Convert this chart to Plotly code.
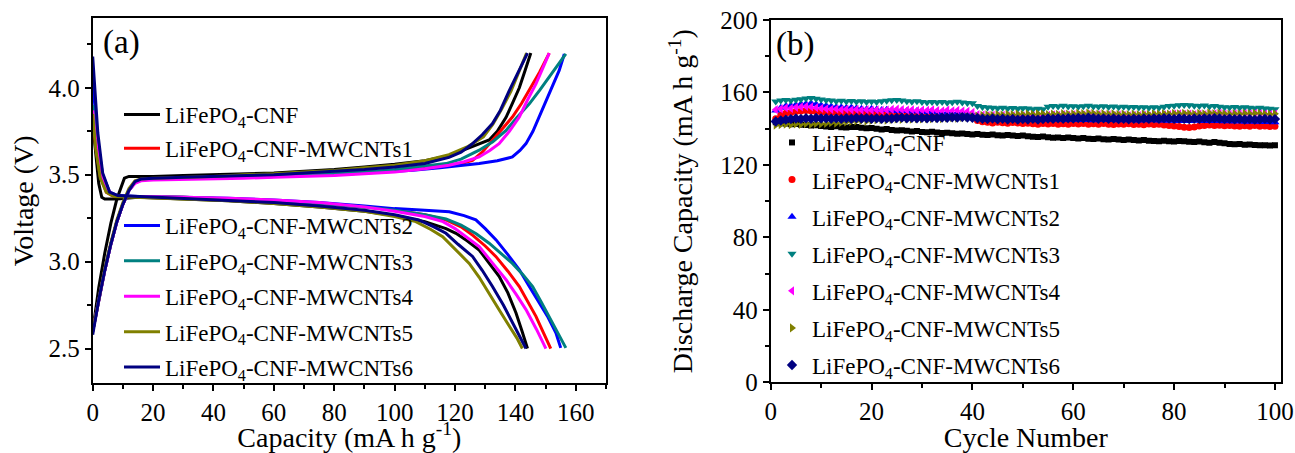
import plotly.graph_objects as go

# ---------------- Panel (a): charge / discharge curves ----------------
names = ["LiFePO<sub>4</sub>-CNF", "LiFePO<sub>4</sub>-CNF-MWCNTs1", "LiFePO<sub>4</sub>-CNF-MWCNTs2",
         "LiFePO<sub>4</sub>-CNF-MWCNTs3", "LiFePO<sub>4</sub>-CNF-MWCNTs4", "LiFePO<sub>4</sub>-CNF-MWCNTs5",
         "LiFePO<sub>4</sub>-CNF-MWCNTs6"]
colors = ["#000000", "#FF0000", "#0000FF", "#008080", "#FF00FF", "#808000", "#000080"]

# charge curves (capacity, voltage)
chg_cap_cnf = [0, 2, 4, 6, 8, 9.5, 10.5, 12, 15, 20, 30, 40, 50, 60, 70, 80, 90, 100, 110, 118, 122.5, 127, 131.3, 134, 136.9, 139, 141.3, 143.2, 145.1]
chg_v_cnf = [2.60, 2.85, 3.05, 3.22, 3.36, 3.44, 3.48, 3.49, 3.49, 3.49, 3.495, 3.50, 3.505, 3.51, 3.52, 3.53, 3.545, 3.56, 3.58, 3.61, 3.64, 3.67, 3.70, 3.75, 3.83, 3.91, 4.00, 4.10, 4.20]
chg_cap_m1 = [0, 2, 4, 6, 8, 10, 12, 14, 16, 20, 30, 40, 50, 60, 70, 80, 90, 100, 110, 118, 122, 125.8, 129, 132.4, 135.5, 139, 142, 144.6, 148, 151.2]
chg_v_m1 = [2.60, 2.78, 2.95, 3.10, 3.23, 3.33, 3.41, 3.455, 3.47, 3.475, 3.478, 3.48, 3.485, 3.49, 3.495, 3.505, 3.515, 3.525, 3.54, 3.555, 3.565, 3.583, 3.63, 3.698, 3.76, 3.832, 3.91, 3.985, 4.09, 4.20]
chg_cap_m2 = [0, 2, 4, 6, 8, 10, 12, 14, 16, 20, 30, 40, 50, 60, 70, 80, 90, 100, 106, 115, 122, 128, 134, 139, 141.5, 143.5, 145.8, 147.9, 150, 152.3, 154.5, 156.2]
chg_v_m2 = [2.60, 2.78, 2.95, 3.10, 3.23, 3.33, 3.41, 3.455, 3.47, 3.475, 3.478, 3.48, 3.485, 3.49, 3.495, 3.50, 3.51, 3.52, 3.526, 3.54, 3.552, 3.564, 3.58, 3.602, 3.64, 3.679, 3.75, 3.832, 3.92, 4.004, 4.10, 4.195]
chg_cap_m3 = [0, 2, 4, 6, 8, 10, 12, 14, 16, 20, 30, 40, 50, 60, 70, 80, 90, 100, 110, 117, 122, 128, 132.5, 136.9, 140.5, 144.6, 148, 151.2, 154, 156.7]
chg_v_m3 = [2.60, 2.78, 2.95, 3.10, 3.23, 3.33, 3.41, 3.455, 3.47, 3.475, 3.478, 3.48, 3.485, 3.49, 3.495, 3.505, 3.515, 3.53, 3.55, 3.564, 3.59, 3.641, 3.69, 3.755, 3.83, 3.908, 3.985, 4.06, 4.13, 4.195]
chg_cap_m4 = [0, 2, 4, 6, 8, 10, 12, 14, 16, 20, 30, 40, 50, 60, 70, 80, 90, 100, 110, 118, 123, 128, 131.5, 134.6, 138, 141.3, 144, 146.8, 149, 151.2]
chg_v_m4 = [2.60, 2.78, 2.95, 3.10, 3.23, 3.33, 3.41, 3.45, 3.465, 3.47, 3.472, 3.475, 3.48, 3.485, 3.49, 3.495, 3.505, 3.515, 3.535, 3.555, 3.575, 3.602, 3.64, 3.679, 3.75, 3.832, 3.93, 4.023, 4.11, 4.20]
chg_cap_m5 = [0, 2, 4, 6, 8, 10, 12, 14, 16, 20, 30, 40, 50, 60, 70, 80, 90, 100, 110, 118, 124, 129.4, 132.5, 135.5, 138.5, 141.2, 143.7]
chg_v_m5 = [2.60, 2.79, 2.96, 3.11, 3.24, 3.34, 3.42, 3.465, 3.475, 3.48, 3.485, 3.49, 3.50, 3.505, 3.515, 3.525, 3.54, 3.555, 3.58, 3.615, 3.66, 3.718, 3.79, 3.88, 3.98, 4.09, 4.20]
chg_cap_m6 = [0, 2, 4, 6, 8, 10, 12, 14, 16, 20, 30, 40, 50, 60, 70, 80, 90, 100, 110, 118, 122, 125.8, 129, 132.4, 135, 138, 141, 144]
chg_v_m6 = [2.58, 2.78, 2.95, 3.10, 3.23, 3.33, 3.41, 3.46, 3.475, 3.48, 3.485, 3.49, 3.495, 3.50, 3.51, 3.52, 3.53, 3.545, 3.565, 3.60, 3.63, 3.679, 3.73, 3.794, 3.87, 3.985, 4.09, 4.20]

# discharge curves (capacity, voltage)
dis_cap_cnf = [0, 1, 2, 3, 4, 8, 15, 30, 45, 60, 75, 90, 100, 110, 117, 120.3, 124, 128, 131, 134.6, 137.5, 140.2, 142.2, 144]
dis_v_cnf = [3.80, 3.62, 3.45, 3.37, 3.36, 3.36, 3.37, 3.36, 3.35, 3.335, 3.315, 3.29, 3.265, 3.23, 3.19, 3.163, 3.12, 3.067, 3.00, 2.915, 2.82, 2.705, 2.60, 2.50]
dis_cap_m1 = [0, 1, 2.5, 4.5, 7, 15, 30, 45, 60, 75, 90, 100, 110, 117, 122, 126, 130, 133.5, 137.5, 141.3, 144, 146.8, 149.3, 151.7]
dis_v_m1 = [3.85, 3.66, 3.49, 3.40, 3.375, 3.375, 3.37, 3.36, 3.35, 3.335, 3.315, 3.295, 3.27, 3.24, 3.20, 3.15, 3.09, 3.03, 2.945, 2.857, 2.77, 2.685, 2.59, 2.50]
dis_cap_m2 = [0, 0.8, 1.7, 3.3, 5.6, 8.3, 15, 30, 45, 60, 75, 90, 100, 110, 118.1, 123, 126.9, 130, 133.6, 137.5, 141.3, 144.5, 147.9, 150.8, 153.4, 155]
dis_v_m2 = [4.05, 3.85, 3.68, 3.50, 3.40, 3.38, 3.375, 3.37, 3.365, 3.355, 3.34, 3.32, 3.305, 3.295, 3.287, 3.265, 3.24, 3.19, 3.125, 3.04, 2.953, 2.86, 2.762, 2.68, 2.59, 2.504]
dis_cap_m3 = [0, 1, 2.5, 4.5, 7, 15, 30, 45, 60, 75, 90, 100, 110, 117, 122, 127, 131.3, 135, 139, 142.5, 145.7, 148.5, 151.2, 154, 156.7]
dis_v_m3 = [3.90, 3.70, 3.50, 3.41, 3.375, 3.375, 3.37, 3.36, 3.35, 3.335, 3.315, 3.295, 3.27, 3.245, 3.21, 3.16, 3.106, 3.05, 2.99, 2.925, 2.857, 2.77, 2.685, 2.595, 2.504]
dis_cap_m4 = [0, 1, 2.5, 4.3, 7, 15, 30, 45, 60, 75, 90, 100, 110, 116, 120, 124, 128, 132.5, 136.9, 140.3, 143.5, 147, 150.1]
dis_v_m4 = [3.87, 3.70, 3.53, 3.43, 3.375, 3.375, 3.37, 3.365, 3.355, 3.34, 3.315, 3.29, 3.26, 3.23, 3.19, 3.14, 3.087, 2.99, 2.896, 2.81, 2.724, 2.61, 2.50]
dis_cap_m5 = [0, 1, 2.5, 4.5, 7, 15, 30, 45, 60, 75, 90, 100, 107, 112, 115.9, 120, 124.7, 128, 131.3, 134.7, 138, 140.5, 142.3]
dis_v_m5 = [3.85, 3.65, 3.48, 3.40, 3.375, 3.37, 3.36, 3.35, 3.335, 3.315, 3.29, 3.26, 3.23, 3.185, 3.144, 3.07, 2.99, 2.91, 2.82, 2.72, 2.628, 2.56, 2.50]
dis_cap_m6 = [0, 0.8, 1.7, 3.3, 5.6, 8.3, 15, 30, 45, 60, 75, 90, 100, 108, 113, 117, 121, 125.8, 129, 132.4, 136, 139, 141.5, 143.5]
dis_v_m6 = [4.18, 3.95, 3.74, 3.51, 3.40, 3.38, 3.375, 3.365, 3.355, 3.34, 3.32, 3.295, 3.27, 3.24, 3.20, 3.163, 3.10, 3.03, 2.95, 2.857, 2.75, 2.65, 2.57, 2.50]

charge_caps = [chg_cap_cnf, chg_cap_m1, chg_cap_m2, chg_cap_m3, chg_cap_m4, chg_cap_m5, chg_cap_m6]
charge_vs = [chg_v_cnf, chg_v_m1, chg_v_m2, chg_v_m3, chg_v_m4, chg_v_m5, chg_v_m6]
dis_caps = [dis_cap_cnf, dis_cap_m1, dis_cap_m2, dis_cap_m3, dis_cap_m4, dis_cap_m5, dis_cap_m6]
dis_vs = [dis_v_cnf, dis_v_m1, dis_v_m2, dis_v_m3, dis_v_m4, dis_v_m5, dis_v_m6]

# ---------------- Panel (b): cycling (discharge capacity) ----------------
cycles = list(range(1, 101))
cap_cnf = [143.5, 143, 142.8, 142.5, 142.6, 142.2, 142.0, 141.8, 141.9, 141.5,
           141.2, 141.0, 141.3, 140.8, 140.6, 140.9, 141.0, 140.5, 140.2, 140.4,
           140.0, 139.6, 139.8, 139.3, 139.0, 139.2, 138.8, 138.5, 138.7, 138.2,
           138.0, 138.3, 137.9, 137.6, 137.8, 137.5, 137.2, 137.4, 137.0, 136.8,
           137.0, 136.7, 136.5, 136.8, 136.4, 136.2, 136.5, 136.3, 136.0, 136.2,
           135.8, 135.6, 135.4, 135.7, 135.3, 135.0, 135.2, 134.9, 135.1, 134.8,
           134.6, 134.9, 134.5, 134.3, 134.6, 134.2, 134.0, 134.3, 134.1, 133.8,
           134.0, 133.7, 133.5, 133.8, 133.4, 133.2, 133.0, 133.3, 133.1, 132.9,
           133.2, 133.0, 132.8, 132.6, 132.9, 132.5, 132.3, 132.6, 132.2, 132.0,
           131.6, 131.4, 131.5, 131.2, 131.3, 131.0, 130.8, 130.9, 130.7, 130.8]
cap_m1 = [145.5, 147.5, 148.5, 149.0, 149.5, 149.8, 150.0, 149.7, 149.5, 149.2,
          149.0, 148.8, 149.1, 148.7, 148.9, 148.5, 148.8, 148.4, 148.6, 148.3,
          148.5, 148.2, 148.4, 148.1, 148.3, 148.0, 148.2, 147.9, 148.1, 147.8,
          148.0, 147.7, 147.9, 147.6, 147.8, 147.5, 147.7, 147.4, 147.2, 146.5,
          144.5, 143.8, 143.5, 143.2, 143.6, 143.3, 143.0, 143.4, 143.1, 142.8,
          143.0, 142.7, 142.5, 142.9, 142.6, 142.8, 142.4, 142.7, 142.5, 142.8,
          142.6, 142.9, 142.5, 142.7, 142.4, 142.8, 142.5, 142.3, 142.6, 142.4,
          142.7, 142.3, 142.5, 142.2, 142.6, 142.3, 142.5, 142.1, 141.8, 141.5,
          141.2, 140.8, 140.6, 141.0, 141.5, 141.8, 142.0, 141.7, 141.9, 141.6,
          141.8, 141.5, 141.3, 141.6, 141.4, 141.7, 141.3, 141.5, 141.2, 141.4]
cap_m2 = [150.0, 151.5, 152.5, 152.8, 153.2, 153.6, 153.8, 154.0, 153.5, 153.0,
          152.6, 152.3, 152.0, 151.8, 151.5, 151.7, 151.3, 151.0, 150.8, 151.0,
          150.6, 150.3, 150.5, 150.1, 149.8, 150.0, 149.7, 149.5, 149.8, 149.4,
          149.2, 149.5, 149.1, 148.8, 149.0, 148.7, 148.5, 148.8, 148.4, 148.0,
          146.8, 146.5, 146.2, 146.0, 145.8, 146.1, 145.7, 145.9, 145.5, 145.8,
          145.6, 145.3, 145.5, 145.2, 145.4, 145.1, 145.3, 145.0, 145.2, 144.9,
          145.1, 144.8, 145.0, 144.7, 144.9, 145.2, 144.8, 145.0, 144.7, 144.9,
          144.6, 144.9, 144.5, 144.8, 144.6, 144.9, 144.5, 144.7, 144.4, 144.6,
          144.3, 144.5, 144.2, 144.4, 144.6, 144.3, 144.5, 144.2, 144.4, 144.1,
          144.3, 144.0, 144.2, 143.9, 144.1, 143.8, 144.0, 143.7, 143.9, 143.6]
cap_m3 = [155.0, 155.5, 155.8, 155.5, 156.0, 156.3, 156.7, 157.0, 156.5, 156.1,
          155.7, 155.5, 155.2, 155.4, 155.0, 155.3, 154.9, 155.1, 154.8, 155.0,
          154.7, 155.1, 155.4, 155.7, 155.9, 155.5, 155.2, 154.9, 155.1, 154.7,
          154.5, 154.8, 154.4, 154.7, 154.3, 154.6, 154.9, 154.5, 154.2, 154.0,
          152.5, 152.0, 151.7, 151.5, 151.3, 151.6, 151.2, 151.4, 151.0, 151.3,
          151.1, 150.8, 151.0, 150.7, 152.1, 152.5, 152.3, 152.6, 152.2, 152.4,
          152.1, 152.4, 152.6, 152.3, 152.1, 152.4, 152.0, 152.2, 151.9, 152.1,
          151.8, 152.0, 151.7, 151.9, 151.6, 151.8, 151.5, 152.1, 152.5, 152.7,
          152.9, 153.1, 153.0, 152.7, 152.5, 152.8, 152.3, 152.5, 152.1, 151.9,
          151.7, 152.0, 151.5, 151.8, 151.6, 151.3, 151.5, 151.2, 151.0, 150.8]
cap_m4 = [150.5, 151.0, 151.5, 151.2, 151.8, 152.0, 152.3, 152.0, 151.6, 151.2,
          151.0, 150.7, 150.9, 150.5, 150.8, 150.4, 150.6, 150.3, 150.5, 150.2,
          150.4, 150.1, 150.3, 150.6, 150.8, 150.5, 150.2, 150.4, 150.0, 150.3,
          150.1, 150.4, 150.0, 149.8, 150.2, 149.9, 150.1, 149.7, 149.5, 149.0,
          147.8, 147.5, 147.2, 147.4, 147.0, 147.3, 146.9, 147.1, 146.8, 147.0,
          146.8, 147.1, 146.7, 147.0, 147.3, 147.6, 147.4, 147.8, 147.5, 147.7,
          147.4, 147.6, 147.9, 147.5, 147.7, 147.3, 147.6, 147.2, 147.5, 147.3,
          147.1, 147.4, 147.2, 147.5, 147.0, 147.3, 147.1, 147.6, 147.8, 148.0,
          148.2, 147.9, 148.1, 147.8, 148.0, 147.7, 147.9, 148.2, 148.4, 148.1,
          147.9, 148.2, 148.0, 148.3, 148.1, 148.4, 148.2, 148.0, 147.8, 148.0]
cap_m5 = [142.0, 142.3, 142.5, 142.2, 142.6, 142.4, 142.8, 142.5, 142.9, 142.7,
          143.0, 143.3, 143.1, 143.5, 143.8, 144.0, 144.3, 144.5, 144.2, 144.6,
          144.8, 145.0, 144.7, 145.1, 145.4, 145.2, 145.5, 145.3, 145.6, 145.4,
          145.7, 145.5, 145.8, 145.6, 145.9, 146.1, 145.8, 146.2, 146.4, 146.6,
          147.0, 147.3, 147.6, 147.4, 147.8, 147.5, 147.9, 147.7, 148.0, 147.8,
          148.1, 147.9, 148.2, 148.0, 147.8, 148.1, 147.9, 148.3, 148.0, 148.2,
          148.5, 148.3, 148.6, 148.4, 148.1, 148.3, 148.0, 148.2, 147.9, 148.1,
          147.8, 148.0, 147.7, 148.1, 147.9, 148.2, 148.0, 148.3, 148.1, 148.4,
          148.2, 148.5, 148.3, 148.1, 148.4, 148.2, 148.6, 148.3, 148.5, 148.2,
          148.0, 148.3, 148.1, 148.4, 148.2, 148.5, 148.3, 148.1, 147.9, 148.2]
cap_m6 = [144.0, 144.5, 145.0, 145.3, 145.6, 145.4, 145.8, 145.5, 145.9, 145.6,
          145.8, 145.5, 145.7, 145.4, 145.8, 145.5, 145.9, 145.6, 145.8, 145.5,
          145.7, 145.4, 145.8, 145.6, 145.9, 146.1, 145.8, 146.0, 145.7, 146.0,
          145.8, 146.1, 145.9, 146.2, 146.0, 146.3, 146.1, 146.4, 146.2, 146.0,
          145.8, 145.5, 145.3, 145.6, 145.2, 145.5, 145.1, 145.4, 145.0, 145.3,
          145.1, 145.4, 145.0, 145.3, 145.6, 145.4, 145.7, 145.5, 145.8, 145.6,
          145.9, 145.7, 146.0, 145.8, 145.5, 145.7, 145.4, 145.6, 145.3, 145.5,
          145.2, 145.5, 145.3, 145.6, 145.4, 145.7, 145.5, 145.8, 145.6, 145.4,
          145.7, 145.5, 145.3, 145.6, 145.4, 145.7, 145.5, 145.8, 145.6, 145.3,
          145.5, 145.2, 145.4, 145.1, 145.3, 145.0, 145.2, 145.4, 145.1, 145.3]
cycle_caps = [cap_cnf, cap_m1, cap_m2, cap_m3, cap_m4, cap_m5, cap_m6]
symbols = ["square", "circle", "triangle-up", "triangle-down", "triangle-left", "triangle-right", "diamond"]
msizes = [6, 7, 8, 8, 8, 8, 8]

x_ticks_a = [0, 20, 40, 60, 80, 100, 120, 140, 160]
y_ticks_a = [2.5, 3.0, 3.5, 4.0]
x_ticks_b = [0, 20, 40, 60, 80, 100]
y_ticks_b = [0, 40, 80, 120, 160, 200]

FONT = "Liberation Serif, Times New Roman, serif"
W, H = 1295, 453

fig = go.Figure()

for i in range(7):
    xs = charge_caps[i] + [None] + dis_caps[i]
    ys = charge_vs[i] + [None] + dis_vs[i]
    fig.add_trace(go.Scatter(
        x=xs, y=ys, mode="lines", name=names[i],
        line=dict(color=colors[i], width=3),
        xaxis="x", yaxis="y", connectgaps=False,
        legend="legend" if i < 2 else "legend2", legendgroup="a%d" % i,
    ))

for i in range(7):
    fig.add_trace(go.Scatter(
        x=cycles, y=cycle_caps[i], mode="markers", name=names[i],
        marker=dict(color=colors[i], symbol=symbols[i], size=msizes[i], line=dict(width=0)),
        xaxis="x2", yaxis="y2", legend="legend3", legendgroup="b%d" % i,
    ))

axis_common = dict(showline=True, linewidth=2, linecolor="black", mirror=True,
                   ticks="outside", ticklen=6, tickwidth=1.5, tickcolor="black",
                   showgrid=False, zeroline=False, automargin=False,
                   tickfont=dict(family=FONT, size=25, color="black"))
minor_common = dict(ticks="outside", ticklen=4, tickcolor="black", tickwidth=1.5)
LEG_FONT = dict(family=FONT, size=23, color="black")

fig.update_layout(
    width=W, height=H,
    margin=dict(l=0, r=0, t=0, b=0, autoexpand=False),
    paper_bgcolor="white", plot_bgcolor="white",
    font=dict(family=FONT, color="black"),
    xaxis=dict(domain=[92.7 / W, 606 / W], range=[0, 170], anchor="y",
               tickvals=x_ticks_a,
               minor=dict(dtick=10, tick0=0, **minor_common),
               title=dict(text="Capacity (mA h g<sup>-1</sup>)", font=dict(family=FONT, size=28), standoff=10),
               **axis_common),
    yaxis=dict(domain=[(H - 383.3) / H, (H - 18.3) / H], range=[2.3, 4.4], anchor="x",
               tickvals=y_ticks_a, tickformat=".1f",
               minor=dict(dtick=0.25, tick0=2.5, **minor_common),
               title=dict(text="Voltage (V)", font=dict(family=FONT, size=28), standoff=7),
               **axis_common),
    xaxis2=dict(domain=[770.7 / W, 1281 / W], range=[0, 101.2], anchor="y2",
                tickvals=x_ticks_b,
                minor=dict(dtick=10, tick0=0, **minor_common),
                title=dict(text="Cycle Number", font=dict(family=FONT, size=28), standoff=10),
                **axis_common),
    yaxis2=dict(domain=[(H - 382.3) / H, (H - 20) / H], range=[0, 200], anchor="x2",
                tickvals=y_ticks_b,
                minor=dict(dtick=20, tick0=0, **minor_common),
                title=dict(text="Discharge Capacity (mA h g<sup>-1</sup>)", font=dict(family=FONT, size=28), standoff=19),
                **axis_common),
    legend=dict(x=119 / W, y=1 - 93 / H, xanchor="left", yanchor="top",
                bgcolor="rgba(0,0,0,0)", font=LEG_FONT,
                traceorder="grouped", tracegroupgap=1, itemwidth=36),
    legend2=dict(x=119 / W, y=1 - 204 / H, xanchor="left", yanchor="top",
                 bgcolor="rgba(0,0,0,0)", font=LEG_FONT,
                 traceorder="grouped", tracegroupgap=2.5, itemwidth=36),
    legend3=dict(x=772 / W, y=1 - 121 / H, xanchor="left", yanchor="top",
                 bgcolor="rgba(0,0,0,0)", font=LEG_FONT,
                 traceorder="grouped", tracegroupgap=4.2, itemwidth=30),
    annotations=[
        dict(text="(a)", x=101 / W, y=1 - 42 / H, xref="paper", yref="paper",
             xanchor="left", yanchor="middle", showarrow=False,
             font=dict(family=FONT, size=33, color="black")),
        dict(text="(b)", x=774 / W, y=1 - 45 / H, xref="paper", yref="paper",
             xanchor="left", yanchor="middle", showarrow=False,
             font=dict(family=FONT, size=33, color="black")),
    ],
    showlegend=True,
)

fig.write_html("out.html", config={"displayModeBar": False},
               post_script="document.body.style.margin='0px';document.body.style.overflow='hidden';")
